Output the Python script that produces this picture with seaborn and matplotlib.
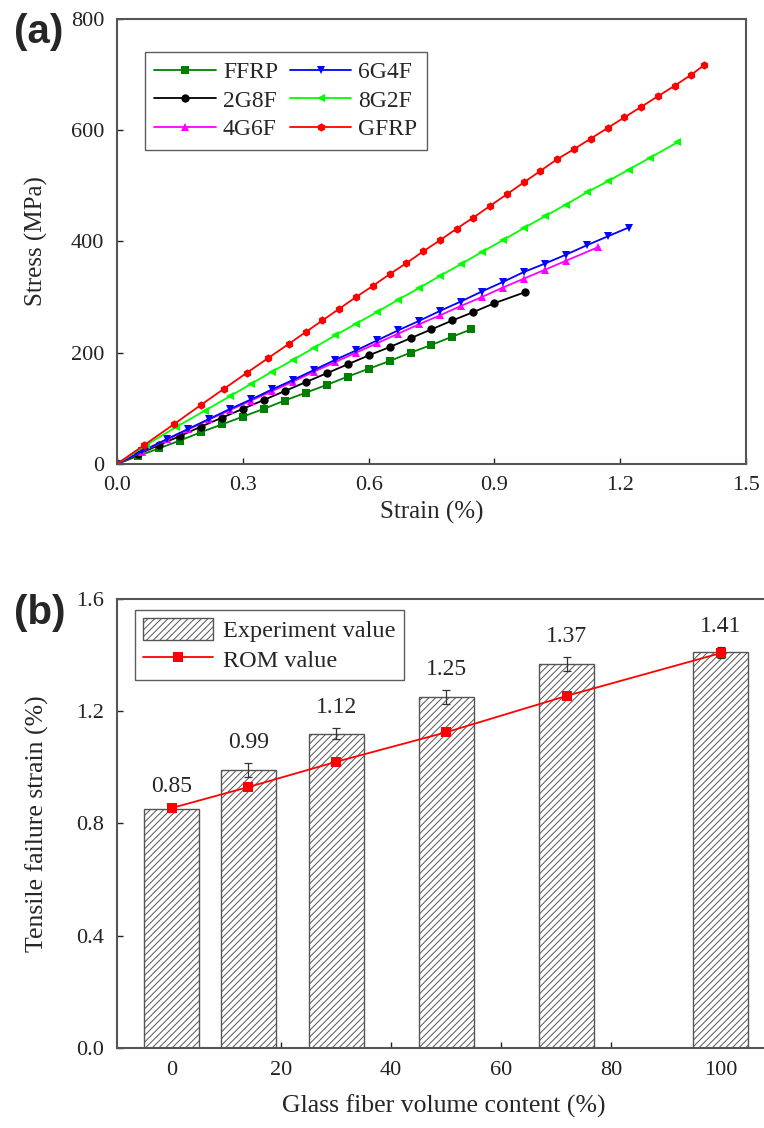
import matplotlib
matplotlib.use('Agg')
import matplotlib.pyplot as plt
import numpy as np
import pandas as pd
import seaborn as sns

# Panel (a): stress-strain curves.
ffrp_strain = [0, 0.05, 0.10, 0.15, 0.20, 0.25, 0.30, 0.35, 0.40, 0.45, 0.50, 0.55, 0.60, 0.65, 0.70, 0.75, 0.80, 0.845]
ffrp_stress = [0, 14, 28, 42, 57, 71, 85, 99, 114, 128, 142, 157, 171, 185, 200, 214, 229, 242]

g2f8_strain = [0, 0.05, 0.10, 0.15, 0.20, 0.25, 0.30, 0.35, 0.40, 0.45, 0.50, 0.55, 0.60, 0.65, 0.70, 0.75, 0.80, 0.85, 0.90, 0.974]
g2f8_stress = [0, 17, 34, 50, 67, 83, 99, 115, 131, 147, 163, 179, 195, 210, 226, 242, 258, 273, 289, 309]

g4f6_strain = [0, 0.06, 0.12, 0.17, 0.22, 0.27, 0.32, 0.37, 0.42, 0.47, 0.52, 0.57, 0.62, 0.67, 0.72, 0.77, 0.82, 0.87, 0.92, 0.97, 1.02, 1.07, 1.148]
g4f6_stress = [0, 22, 44, 62, 80, 97, 114, 131, 148, 166, 183, 200, 217, 234, 251, 267, 284, 300, 317, 333, 349, 365, 390]

g6f4_strain = [0, 0.06, 0.12, 0.17, 0.22, 0.27, 0.32, 0.37, 0.42, 0.47, 0.52, 0.57, 0.62, 0.67, 0.72, 0.77, 0.82, 0.87, 0.92, 0.97, 1.02, 1.07, 1.12, 1.17, 1.22]
g6f4_stress = [0, 23, 45, 63, 81, 99, 116, 134, 151, 169, 187, 204, 222, 240, 257, 275, 292, 310, 327, 345, 360, 376, 393, 409, 425]

g8f2_strain = [0, 0.07, 0.14, 0.21, 0.27, 0.32, 0.37, 0.42, 0.47, 0.52, 0.57, 0.62, 0.67, 0.72, 0.77, 0.82, 0.87, 0.92, 0.97, 1.02, 1.07, 1.12, 1.17, 1.22, 1.27, 1.336]
g8f2_stress = [0, 34, 66, 96, 122, 144, 166, 187, 209, 231, 252, 273, 295, 316, 338, 359, 381, 402, 424, 445, 466, 488, 508, 529, 550, 578]

gfrp_strain = [0, 0.065, 0.135, 0.20, 0.255, 0.31, 0.36, 0.41, 0.45, 0.49, 0.53, 0.57, 0.61, 0.65, 0.69, 0.73, 0.77,
               0.81, 0.85, 0.89, 0.93, 0.97, 1.01, 1.05, 1.09, 1.13, 1.17, 1.21, 1.25, 1.29, 1.33, 1.37, 1.40]
gfrp_stress = [0, 34, 71, 106, 135, 164, 190, 216, 237, 258, 279, 300, 320, 341, 361, 382, 402,
               423, 443, 464, 485, 506, 527, 548, 566, 585, 604, 623, 642, 661, 680, 700, 717]

# Panel (b): tensile failure strain vs glass fibre content.
glass_content = [0, 14, 30, 50, 72, 100]
exp_strain = [0.85, 0.99, 1.12, 1.25, 1.37, 1.41]
exp_err = [0.01, 0.025, 0.02, 0.025, 0.025, 0.02]
rom_strain = [0.855, 0.93, 1.02, 1.125, 1.255, 1.407]

sns.set_style('ticks')
plt.rcParams['font.family'] = ['Liberation Serif', 'DejaVu Serif']
plt.rcParams['hatch.linewidth'] = 0.7
plt.rcParams['hatch.color'] = '#666666'

fig = plt.figure(figsize=(7.64, 11.28), dpi=100)
ax1 = fig.add_axes([0.1531, 0.5887, 0.8233, 0.3945])
ax2 = fig.add_axes([0.1527, 0.0709, 0.8552, 0.3981])

curves = [
    ('FFRP', ffrp_strain, ffrp_stress, '#008000', 's'),
    ('2G8F', g2f8_strain, g2f8_stress, 'black', 'o'),
    ('4G6F', g4f6_strain, g4f6_stress, '#ff00ff', '^'),
    ('6G4F', g6f4_strain, g6f4_stress, '#0000ff', 'v'),
    ('8G2F', g8f2_strain, g8f2_stress, '#00ff00', '<'),
    ('GFRP', gfrp_strain, gfrp_stress, '#ff0000', 'h'),
]
for name, xs, ys, col, mk in curves:
    sns.lineplot(x=xs, y=ys, ax=ax1, color=col, marker=mk, markersize=6,
                 markeredgewidth=0, linewidth=1.3, label=name, sort=False)

ax1.set_xlim(0, 1.5)
ax1.set_ylim(0, 800)
ax1.set_xticks([0.0, 0.3, 0.6, 0.9, 1.2, 1.5])
ax1.set_xticklabels(['0.0', '0.3', '0.6', '0.9', '1.2', '1.5'])
ax1.set_yticks([0, 200, 400, 600, 800])
ax1.set_xlabel('Strain (%)', fontsize=18, va='center')
ax1.set_ylabel('Stress (MPa)', fontsize=18, va='center')
ax1.xaxis.set_label_coords(0.5, -0.108)
ax1.yaxis.set_label_coords(-0.128, 0.5)
leg1 = ax1.legend(ncol=2, loc='upper left', bbox_to_anchor=(0.0445, 0.9258), borderaxespad=0,
                  frameon=True, fancybox=False, edgecolor='#333333', fontsize=17,
                  handlelength=2.6, columnspacing=0.5, handletextpad=0.3, labelspacing=0.3,
                  borderpad=0.4)
leg1.get_frame().set_linewidth(1.0)

# Panel (b)
df_b = pd.DataFrame({'content': glass_content, 'strain': exp_strain})
sns.barplot(data=df_b, x='content', y='strain', native_scale=True, width=10 / 14,
            color='white', edgecolor='#555555', linewidth=1.0, errorbar=None, ax=ax2,
            label='Experiment value')
for p in ax2.patches:
    p.set_hatch('/////')
    p.set_facecolor('white')
ax2.errorbar(glass_content, exp_strain, yerr=exp_err, fmt='none', ecolor='#333333',
             elinewidth=0.9, capsize=3, capthick=0.9)
sns.lineplot(x=glass_content, y=rom_strain, ax=ax2, color='#ff0000', marker='s', markersize=7,
             markeredgewidth=0, linewidth=1.3, label='ROM value')
for xv, yv, ev in zip(glass_content, exp_strain, exp_err):
    ax2.annotate(f'{yv:.2f}', (xv, yv + ev), xytext=(0, 7), textcoords='offset points',
                 ha='center', va='bottom', fontsize=17)

ax2.set_xlim(-10, 109)
ax2.set_ylim(0, 1.6)
ax2.set_xticks([0, 20, 40, 60, 80, 100])
ax2.set_yticks([0.0, 0.4, 0.8, 1.2, 1.6])
ax2.set_yticklabels(['0.0', '0.4', '0.8', '1.2', '1.6'])
ax2.set_xlabel('Glass fiber volume content (%)', fontsize=18.5, va='center')
ax2.set_ylabel('Tensile failure strain (%)', fontsize=18.5, va='center')
ax2.xaxis.set_label_coords(0.5, -0.13)
ax2.yaxis.set_label_coords(-0.122, 0.5)
handles, labels = ax2.get_legend_handles_labels()
order = [labels.index('Experiment value'), labels.index('ROM value')]
leg2 = ax2.legend([handles[i] for i in order], [labels[i] for i in order],
                  loc='upper left', bbox_to_anchor=(0.028, 0.9755), borderaxespad=0,
                  frameon=True, fancybox=False, edgecolor='#333333', fontsize=17.5,
                  handlelength=2.9, handleheight=1.0, handletextpad=0.4, labelspacing=0.22,
                  borderpad=0.33)
leg2.get_frame().set_linewidth(1.0)

for ax in (ax1, ax2):
    ax.tick_params(direction='in', length=4, width=1, labelsize=16, colors='#222222')
    ax.tick_params(axis='x', pad=9)
    ax.tick_params(axis='y', pad=9)
    for s in ax.spines.values():
        s.set_visible(True)
        s.set_color('#555555')
        s.set_linewidth(1.5)

fig.text(0.018, 0.972, '(a)', fontsize=29, fontweight='bold', family='Liberation Sans', va='center')
fig.text(0.018, 0.457, '(b)', fontsize=29, fontweight='bold', family='Liberation Sans', va='center')

fig.savefig('out.png', dpi=100, facecolor='white')
